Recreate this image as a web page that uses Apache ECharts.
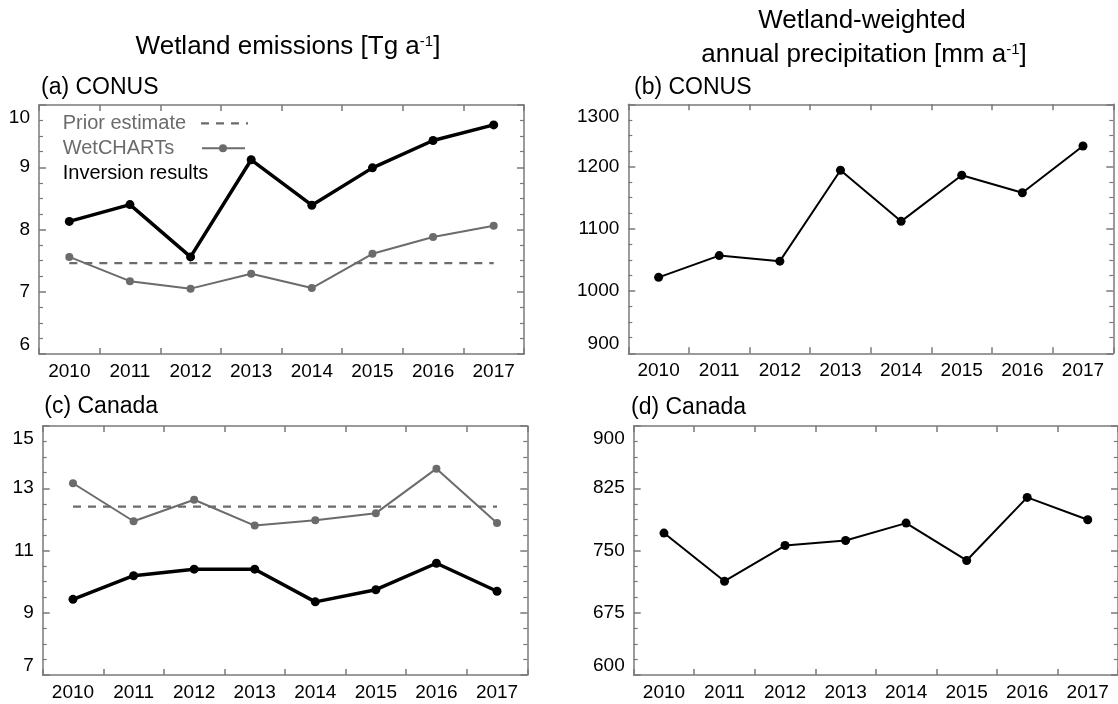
<!DOCTYPE html>
<html>
<head>
<meta charset="utf-8">
<script src="https://cdn.jsdelivr.net/npm/echarts@6/dist/echarts.min.js"></script>
<style>
html,body{margin:0;padding:0;background:#fff;}
#chart{width:1118px;height:704px;}
</style>
</head>
<body>
<div id="chart"></div>
<script>
// ---- data ----
const years = ['2010','2011','2012','2013','2014','2015','2016','2017'];
const conusInversion = [8.13, 8.40, 7.56, 9.12, 8.39, 8.99, 9.43, 9.68];
const conusWetcharts = [7.56, 7.17, 7.05, 7.29, 7.06, 7.61, 7.88, 8.06];
const conusPrior     = [7.46, 7.46, 7.46, 7.46, 7.46, 7.46, 7.46, 7.46];
const conusPrecip    = [1022, 1057, 1048, 1194, 1112, 1186, 1158, 1233];
const canadaInversion = [9.43, 10.19, 10.40, 10.40, 9.35, 9.74, 10.59, 9.69];
const canadaWetcharts = [13.16, 11.94, 12.63, 11.80, 11.97, 12.20, 13.63, 11.88];
const canadaPrior     = [12.41, 12.41, 12.41, 12.41, 12.41, 12.41, 12.41, 12.41];
const canadaPrecip    = [771, 713, 756, 762, 783, 738, 814, 787];
const panelLabels = ['(a) CONUS', '(b) CONUS', '(c) Canada', '(d) Canada'];
const yRanges = [[6, 10, 1], [900, 1300, 100], [7, 15, 2], [600, 900, 75]];
const legendLabels = ['Prior estimate', 'WetCHARTs', 'Inversion results'];

// ---- style ----
const FONT = '"Liberation Sans", Arial, Helvetica, sans-serif';
const AX = '#7a7a7a';
const GRAY = '#6b6b6b';

const grids = [
  {left: 39,    top: 105,   width: 485,   height: 249},
  {left: 628.3, top: 104.3, width: 485,   height: 249},
  {left: 42.7,  top: 426,   width: 484.6, height: 249},
  {left: 633.7, top: 426,   width: 485,   height: 249}
];

const xAxes = [], yAxes = [];
grids.forEach((g, i) => {
  const base = {
    gridIndex: i, type: 'category', data: years, boundaryGap: true,
    axisLine: {show: true, lineStyle: {color: AX, width: 1.5}},
    axisTick: {show: true, inside: true, length: 6, interval: 0, lineStyle: {color: AX, width: 1.5}},
    splitLine: {show: false}
  };
  xAxes.push(Object.assign({}, base, {
    position: 'bottom',
    axisLabel: {show: true, interval: 0, margin: 8, fontSize: 19, fontFamily: FONT, color: '#000'}
  }));
  xAxes.push(Object.assign({}, base, {position: 'top', axisLabel: {show: false}}));
  const [mn, mx, iv] = yRanges[i];
  const ybase = {
    gridIndex: i, type: 'value', min: mn, max: mx, interval: iv,
    axisLine: {show: true, lineStyle: {color: AX, width: 1.5}},
    axisTick: {show: true, inside: true, length: 7, lineStyle: {color: AX, width: 1.5}},
    minorTick: {show: true, splitNumber: 4, length: 4, lineStyle: {color: AX, width: 1.2}},
    splitLine: {show: false}, minorSplitLine: {show: false}
  };
  yAxes.push(Object.assign({}, ybase, {
    position: 'left',
    axisLabel: {show: true, margin: 9, fontSize: 19, fontFamily: FONT, color: '#000',
      verticalAlignMinLabel: 'bottom', verticalAlignMaxLabel: 'top',
      formatter: function (v) { return v === mx ? '{mx|' + v + '}' : String(v); },
      rich: {mx: {fontSize: 19, fontFamily: FONT, color: '#000', lineHeight: 25}}}
  }));
  yAxes.push(Object.assign({}, ybase, {position: 'right', axisLabel: {show: false}}));
});

function inv(data, gi) {
  return {type: 'line', xAxisIndex: 2*gi, yAxisIndex: 2*gi, data: data, z: 4,
    symbol: 'circle', symbolSize: 9, lineStyle: {color: '#000', width: 3.5},
    itemStyle: {color: '#000'}};
}
function wet(data, gi) {
  return {type: 'line', xAxisIndex: 2*gi, yAxisIndex: 2*gi, data: data, z: 3,
    symbol: 'circle', symbolSize: 8, lineStyle: {color: GRAY, width: 2},
    itemStyle: {color: GRAY}};
}
function prior(data, gi) {
  return {type: 'line', xAxisIndex: 2*gi, yAxisIndex: 2*gi, data: data, z: 2,
    symbol: 'none', lineStyle: {color: GRAY, width: 2.2, type: [8, 7]}};
}
function precip(data, gi) {
  return {type: 'line', xAxisIndex: 2*gi, yAxisIndex: 2*gi, data: data,
    symbol: 'circle', symbolSize: 9, lineStyle: {color: '#000', width: 2},
    itemStyle: {color: '#000'}};
}

const series = [
  prior(conusPrior, 0), wet(conusWetcharts, 0), inv(conusInversion, 0),
  precip(conusPrecip, 1),
  prior(canadaPrior, 2), wet(canadaWetcharts, 2), inv(canadaInversion, 2),
  precip(canadaPrecip, 3)
];

const supRich = {sup: {fontSize: 15, fontFamily: FONT, verticalAlign: 'top', lineHeight: 16}};
function txt(x, y, text, size, color, align, rich) {
  return {type: 'text', x: x, y: y, silent: true,
    style: {text: text, font: size + 'px ' + FONT, fill: color,
      align: align || 'left', verticalAlign: 'middle', rich: rich}};
}

const graphic = [
  txt(288, 47, 'Wetland emissions [Tg a{sup|-1}]', 26, '#000', 'center', supRich),
  txt(862, 21, 'Wetland-weighted', 26, '#000', 'center'),
  txt(864, 55, 'annual precipitation [mm a{sup|-1}]', 26, '#000', 'center', supRich),
  txt(41, 88, panelLabels[0], 23, '#000'),
  txt(634, 87.5, panelLabels[1], 23, '#000'),
  txt(44.3, 407, panelLabels[2], 23, '#000'),
  txt(631, 407.5, panelLabels[3], 23, '#000'),
  txt(62.7, 123.3, legendLabels[0], 20, GRAY),
  txt(62.7, 148.3, legendLabels[1], 20, GRAY),
  txt(62.7, 173.3, legendLabels[2], 20, '#000'),
  {type: 'line', silent: true, shape: {x1: 201, y1: 123.3, x2: 248, y2: 123.3},
    style: {stroke: GRAY, lineWidth: 2.2, lineDash: [8, 7]}},
  {type: 'line', silent: true, shape: {x1: 202, y1: 148.3, x2: 245, y2: 148.3},
    style: {stroke: GRAY, lineWidth: 2}},
  {type: 'circle', silent: true, shape: {cx: 223, cy: 148.3, r: 4},
    style: {fill: GRAY}}
];

const chart = echarts.init(document.getElementById('chart'), null, {renderer: 'canvas'});
chart.setOption({
  animation: false,
  backgroundColor: '#fff',
  grid: grids,
  xAxis: xAxes,
  yAxis: yAxes,
  series: series,
  graphic: graphic
});
</script>
</body>
</html>
